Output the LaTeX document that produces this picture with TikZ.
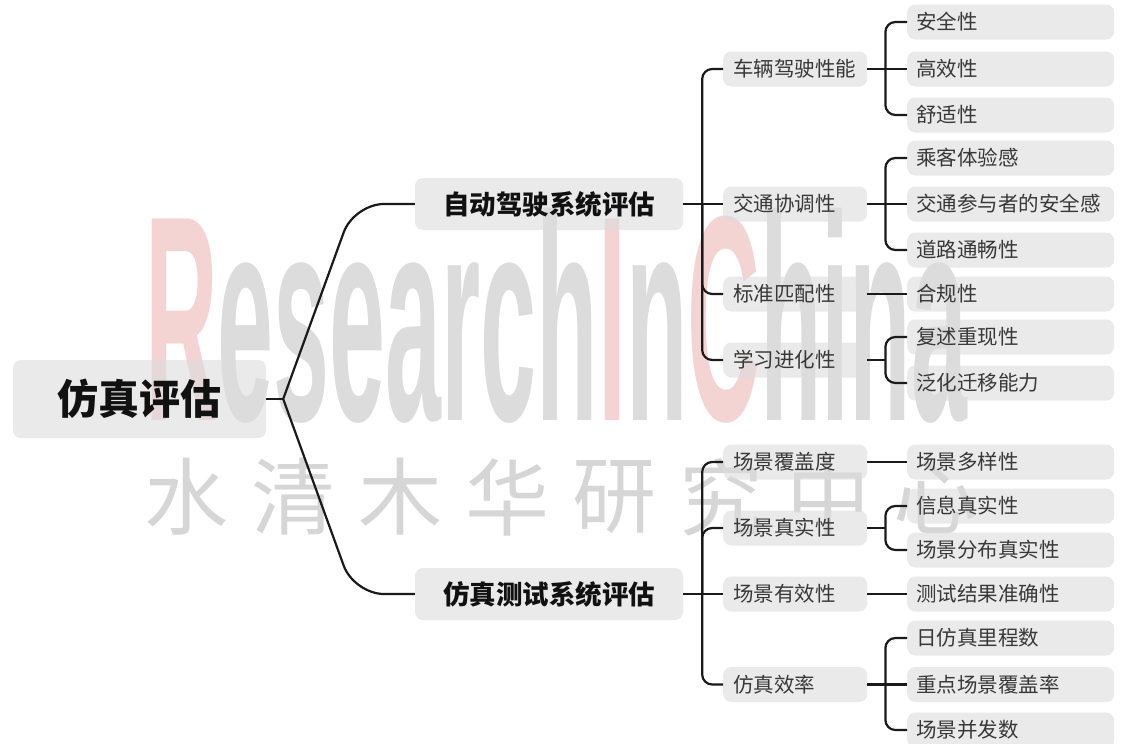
\documentclass[tikz,border=0pt]{standalone}
\usepackage{fontspec}
\setmainfont{Noto Sans CJK SC}
\newfontfamily\wmfont{Liberation Sans}
\usepackage{graphicx}
\definecolor{boxc}{HTML}{DCDCDC}
\definecolor{linec}{HTML}{1A1A1A}
\definecolor{txtdark}{HTML}{111111}
\definecolor{txtmid}{HTML}{383838}
\definecolor{wmgray}{HTML}{DCDCDC}
\definecolor{wmpink}{HTML}{F4D3D3}
\definecolor{wmcjk}{HTML}{D6D6D6}
\tikzset{
  box/.style={fill=boxc, fill opacity=0.6, text opacity=1, rounded corners=8pt, inner ysep=0pt},
  rootbox/.style={box, minimum width=253pt, minimum height=78pt, text height=36.1pt, text depth=4.9pt, font=\fontsize{41}{41}\selectfont\bfseries, text=txtdark},
  lonebox/.style={box, minimum width=268pt, minimum height=52pt, text height=23.3pt, text depth=3.2pt, font=\fontsize{26.5}{26.5}\selectfont\bfseries, text=txtdark},
  ltwobox/.style={box, anchor=west, text width=124pt, inner xsep=10pt, align=left, minimum height=35pt, text height=18pt, text depth=2.5pt, font=\fontsize{20.5}{20.5}\selectfont, text=txtmid},
  lthreebox/.style={box, anchor=west, text width=189pt, inner xsep=9pt, align=left, minimum height=35pt, text height=18pt, text depth=2.5pt, font=\fontsize{20.5}{20.5}\selectfont, text=txtmid},
  conn/.style={draw=linec, line width=2.2pt, rounded corners=10pt},
}
\begin{document}
\begin{tikzpicture}[x=1pt, y=-1pt]
\useasboundingbox (0,0) rectangle (1135,744);
\fill[white] (0,0) rectangle (1135,744);

% watermark
\node[anchor=base west, inner sep=0pt, text=wmgray] (wm) at (145,420)
  {\scalebox{1.006}[2.93]{\wmfont\bfseries\fontsize{100}{100}\selectfont\textcolor{wmpink}{R}esearch\textcolor{wmpink}{I}n\textcolor{wmpink}{C}hina}};
\foreach \ch [count=\i from 0] in {水,清,木,华,研,究,中,心}
  \node[inner sep=0pt, text=wmcjk, font=\fontsize{84}{84}\selectfont] (wc\i) at (186+107*\i,497) {\ch};

% root and level 1
\node[rootbox] (root) at (139.5,399) {仿真评估};
\node[lonebox] (A) at (549,204) {自动驾驶系统评估};
\node[lonebox] (B) at (549,594) {仿真测试系统评估};

% level 2
\node[ltwobox] (A1) at (723,69) {车辆驾驶性能};
\node[ltwobox] (A2) at (723,204) {交通协调性};
\node[ltwobox] (A3) at (723,294) {标准匹配性};
\node[ltwobox] (A4) at (723,360) {学习进化性};
\node[ltwobox] (B1) at (723,462) {场景覆盖度};
\node[ltwobox] (B2) at (723,528) {场景真实性};
\node[ltwobox] (B3) at (723,594) {场景有效性};
\node[ltwobox] (B4) at (723,684.5) {仿真效率};

% level 3
\node[lthreebox] (A11) at (907,22) {安全性};
\node[lthreebox] (A12) at (907,69) {高效性};
\node[lthreebox] (A13) at (907,115) {舒适性};
\node[lthreebox] (A21) at (907,158) {乘客体验感};
\node[lthreebox] (A22) at (907,204) {交通参与者的安全感};
\node[lthreebox] (A23) at (907,250) {道路通畅性};
\node[lthreebox] (A31) at (907,294) {合规性};
\node[lthreebox] (A41) at (907,337) {复述重现性};
\node[lthreebox] (A42) at (907,383) {泛化迁移能力};
\node[lthreebox] (B11) at (907,462) {场景多样性};
\node[lthreebox] (B21) at (907,506) {信息真实性};
\node[lthreebox] (B22) at (907,550) {场景分布真实性};
\node[lthreebox] (B31) at (907,594) {测试结果准确性};
\node[lthreebox] (B41) at (907,638) {日仿真里程数};
\node[lthreebox] (B42) at (907,684.5) {重点场景覆盖率};
\node[lthreebox] (B43) at (907,730) {场景并发数};

% root connectors
\coordinate (jr) at ([xshift=17pt]root.east);
\draw[conn] (root.east) -- (jr);
\draw[conn, rounded corners=30pt] (jr) -- (354,204) -- (A.west);
\draw[conn, rounded corners=30pt] (jr) -- (354,594) -- (B.west);

% level 1 -> level 2
\coordinate (ja) at ([xshift=19pt]A.east);
\coordinate (jb) at ([xshift=19pt]B.east);
\draw[conn] (A.east) -- (A2.west);
\draw[conn] (B.east) -- (B3.west);
\foreach \c in {A1,A4} \draw[conn] (ja) |- (\c.west);
\draw[conn] (ja) |- (A3.west);
\foreach \c in {B1,B2,B4} \draw[conn] (jb) |- (\c.west);

% level 2 -> level 3 (branching)
\foreach \p/\mid/\kids in {A1/A12/{A11,A13}, A2/A22/{A21,A23}, B4/B42/{B41,B43}} {
  \coordinate (j\p) at ([xshift=18pt]\p.east);
  \draw[conn] (\p.east) -- (\mid.west);
  \foreach \k in \kids \draw[conn] (j\p) |- (\k.west);
}
\foreach \p/\kids in {A4/{A41,A42}, B2/{B21,B22}} {
  \coordinate (j\p) at ([xshift=18pt]\p.east);
  \draw[conn] (\p.east) -- (j\p);
  \foreach \k in \kids \draw[conn] (j\p) |- (\k.west);
}
% single children
\draw[conn] (A3.east) -- (A31.west);
\draw[conn] (B1.east) -- (B11.west);
\draw[conn] (B3.east) -- (B31.west);
\end{tikzpicture}
\end{document}
